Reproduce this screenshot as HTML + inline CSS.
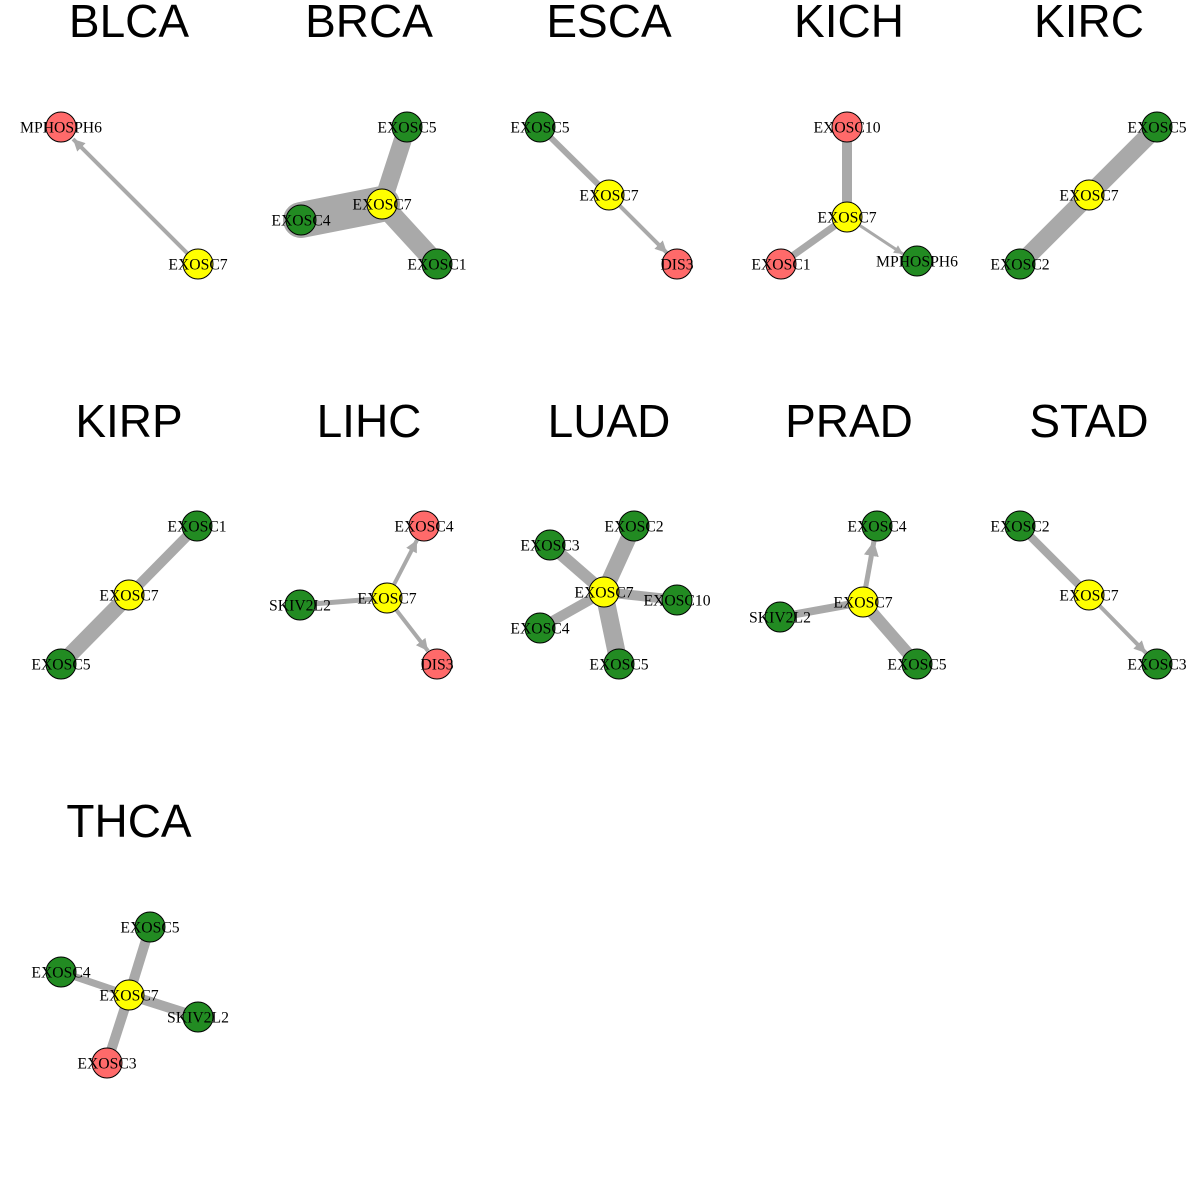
<!DOCTYPE html>
<html><head><style>body{margin:0;background:#fff}svg{display:block}</style></head><body>
<svg width="1200" height="1200" xmlns="http://www.w3.org/2000/svg">
<defs><marker id="a" viewBox="0 0 10 10" refX="10" refY="5" markerWidth="3" markerHeight="3" orient="auto" markerUnits="strokeWidth"><path d="M0,0L10,5L0,10z" fill="#a9a9a9"/></marker></defs>
<g font-family="Liberation Sans, sans-serif" font-size="46" text-anchor="middle">
<text x="129" y="37">BLCA</text><text x="369" y="37">BRCA</text><text x="609" y="37">ESCA</text><text x="849" y="37">KICH</text><text x="1089" y="37">KIRC</text>
<text x="129" y="437">KIRP</text><text x="369" y="437">LIHC</text><text x="609" y="437">LUAD</text><text x="849" y="437">PRAD</text><text x="1089" y="437">STAD</text>
<text x="129" y="837">THCA</text></g>
<g stroke="#a9a9a9" stroke-linecap="butt" fill="none">
<line x1="198" y1="264" x2="73" y2="139" stroke-width="4" marker-end="url(#a)"/>
<line x1="382" y1="204" x2="407" y2="127" stroke-width="18"/>
<line x1="382" y1="204" x2="301" y2="220" stroke-width="36" stroke-linecap="round"/>
<line x1="382" y1="204" x2="437" y2="264" stroke-width="20"/>
<line x1="540" y1="127" x2="609" y2="195" stroke-width="6"/>
<line x1="609" y1="195" x2="667" y2="253" stroke-width="4" marker-end="url(#a)"/>
<line x1="847" y1="127" x2="847" y2="217" stroke-width="10"/>
<line x1="847" y1="217" x2="781" y2="264" stroke-width="7"/>
<line x1="847" y1="217" x2="903" y2="254" stroke-width="3" marker-end="url(#a)"/>
<line x1="1157" y1="127" x2="1020" y2="264" stroke-width="18"/>
<line x1="197" y1="526" x2="129" y2="595" stroke-width="10"/>
<line x1="129" y1="595" x2="61" y2="664" stroke-width="16"/>
<line x1="387" y1="598" x2="417" y2="540" stroke-width="4" marker-end="url(#a)"/>
<line x1="387" y1="598" x2="300" y2="605" stroke-width="5"/>
<line x1="387" y1="598" x2="428" y2="651" stroke-width="4" marker-end="url(#a)"/>
<line x1="604" y1="592" x2="634" y2="526" stroke-width="16"/>
<line x1="604" y1="592" x2="550" y2="545" stroke-width="12"/>
<line x1="604" y1="592" x2="677" y2="600" stroke-width="10"/>
<line x1="604" y1="592" x2="540" y2="628" stroke-width="10"/>
<line x1="604" y1="592" x2="619" y2="664" stroke-width="18"/>
<line x1="863" y1="602" x2="874" y2="541" stroke-width="5" marker-end="url(#a)"/>
<line x1="863" y1="602" x2="780" y2="617" stroke-width="8"/>
<line x1="863" y1="602" x2="917" y2="664" stroke-width="12"/>
<line x1="1020" y1="526" x2="1089" y2="595" stroke-width="8"/>
<line x1="1089" y1="595" x2="1146" y2="653" stroke-width="4" marker-end="url(#a)"/>
<line x1="129" y1="995" x2="150" y2="927" stroke-width="10"/>
<line x1="129" y1="995" x2="61" y2="972" stroke-width="7"/>
<line x1="129" y1="995" x2="198" y2="1017" stroke-width="10"/>
<line x1="129" y1="995" x2="107" y2="1063" stroke-width="10"/>
</g>
<g stroke="#000" stroke-width="1">
<circle cx="61" cy="127" r="15" fill="#ff6a6a"/><circle cx="198" cy="264" r="15" fill="#ffff00"/>
<circle cx="407" cy="127" r="15" fill="#228b22"/><circle cx="301" cy="220" r="15" fill="#228b22"/><circle cx="437" cy="264" r="15" fill="#228b22"/><circle cx="382" cy="204" r="15" fill="#ffff00"/>
<circle cx="540" cy="127" r="15" fill="#228b22"/><circle cx="609" cy="195" r="15" fill="#ffff00"/><circle cx="677" cy="264" r="15" fill="#ff6a6a"/>
<circle cx="847" cy="127" r="15" fill="#ff6a6a"/><circle cx="847" cy="217" r="15" fill="#ffff00"/><circle cx="781" cy="264" r="15" fill="#ff6a6a"/><circle cx="917" cy="261" r="15" fill="#228b22"/>
<circle cx="1157" cy="127" r="15" fill="#228b22"/><circle cx="1089" cy="195" r="15" fill="#ffff00"/><circle cx="1020" cy="264" r="15" fill="#228b22"/>
<circle cx="197" cy="526" r="15" fill="#228b22"/><circle cx="129" cy="595" r="15" fill="#ffff00"/><circle cx="61" cy="664" r="15" fill="#228b22"/>
<circle cx="424" cy="526" r="15" fill="#ff6a6a"/><circle cx="387" cy="598" r="15" fill="#ffff00"/><circle cx="300" cy="605" r="15" fill="#228b22"/><circle cx="437" cy="664" r="15" fill="#ff6a6a"/>
<circle cx="634" cy="526" r="15" fill="#228b22"/><circle cx="550" cy="545" r="15" fill="#228b22"/><circle cx="677" cy="600" r="15" fill="#228b22"/><circle cx="540" cy="628" r="15" fill="#228b22"/><circle cx="619" cy="664" r="15" fill="#228b22"/><circle cx="604" cy="592" r="15" fill="#ffff00"/>
<circle cx="877" cy="526" r="15" fill="#228b22"/><circle cx="780" cy="617" r="15" fill="#228b22"/><circle cx="917" cy="664" r="15" fill="#228b22"/><circle cx="863" cy="602" r="15" fill="#ffff00"/>
<circle cx="1020" cy="526" r="15" fill="#228b22"/><circle cx="1089" cy="595" r="15" fill="#ffff00"/><circle cx="1157" cy="664" r="15" fill="#228b22"/>
<circle cx="150" cy="927" r="15" fill="#228b22"/><circle cx="61" cy="972" r="15" fill="#228b22"/><circle cx="198" cy="1017" r="15" fill="#228b22"/><circle cx="107" cy="1063" r="15" fill="#ff6a6a"/><circle cx="129" cy="995" r="15" fill="#ffff00"/>
</g>
<g font-family="Liberation Serif, serif" font-size="15.7" text-anchor="middle" dominant-baseline="central">
<text x="61" y="128">MPHOSPH6</text><text x="198" y="265">EXOSC7</text>
<text x="407" y="128">EXOSC5</text><text x="301" y="221">EXOSC4</text><text x="437" y="265">EXOSC1</text><text x="382" y="205">EXOSC7</text>
<text x="540" y="128">EXOSC5</text><text x="609" y="196">EXOSC7</text><text x="677" y="265">DIS3</text>
<text x="847" y="128">EXOSC10</text><text x="847" y="218">EXOSC7</text><text x="781" y="265">EXOSC1</text><text x="917" y="262">MPHOSPH6</text>
<text x="1157" y="128">EXOSC5</text><text x="1089" y="196">EXOSC7</text><text x="1020" y="265">EXOSC2</text>
<text x="197" y="527">EXOSC1</text><text x="129" y="596">EXOSC7</text><text x="61" y="665">EXOSC5</text>
<text x="424" y="527">EXOSC4</text><text x="387" y="599">EXOSC7</text><text x="300" y="606">SKIV2L2</text><text x="437" y="665">DIS3</text>
<text x="634" y="527">EXOSC2</text><text x="550" y="546">EXOSC3</text><text x="677" y="601">EXOSC10</text><text x="540" y="629">EXOSC4</text><text x="619" y="665">EXOSC5</text><text x="604" y="593">EXOSC7</text>
<text x="877" y="527">EXOSC4</text><text x="780" y="618">SKIV2L2</text><text x="917" y="665">EXOSC5</text><text x="863" y="603">EXOSC7</text>
<text x="1020" y="527">EXOSC2</text><text x="1089" y="596">EXOSC7</text><text x="1157" y="665">EXOSC3</text>
<text x="150" y="928">EXOSC5</text><text x="61" y="973">EXOSC4</text><text x="198" y="1018">SKIV2L2</text><text x="107" y="1064">EXOSC3</text><text x="129" y="996">EXOSC7</text>
</g>
</svg>
</body></html>
